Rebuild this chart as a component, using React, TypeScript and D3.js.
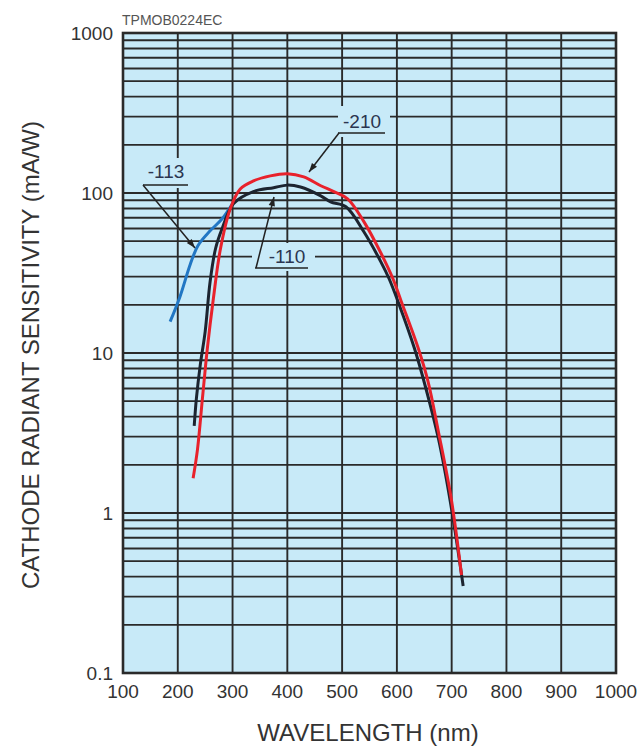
import React from "react";
import * as d3 from "d3";

const xTicks = [100, 200, 300, 400, 500, 600, 700, 800, 900, 1000];
const yTickLabels = [
  { v: 1000, t: "1000" },
  { v: 100, t: "100" },
  { v: 10, t: "10" },
  { v: 1, t: "1" },
  { v: 0.1, t: "0.1" },
];

// -113 (blue, UV extension)
const series113: [number, number][] = [
  [186, 15.7], [204, 22.5], [223, 36], [237, 47], [259, 58], [281, 69], [300, 86],
];
// -110 (black)
const series110: [number, number][] = [
  [230, 3.5], [234, 5.2], [241, 8.4], [250, 13.6], [259, 27.9], [269, 45], [281, 60],
  [302, 86], [338, 102], [375, 108], [400, 112], [424, 109], [461, 96], [479, 88],
  [507, 82], [540, 57], [571, 37], [586, 29], [602, 21], [632, 10.7], [653, 6.0],
  [676, 2.9], [699, 1.1], [721, 0.35],
];
// -210 (red)
const series210: [number, number][] = [
  [228, 1.65], [236, 2.5], [245, 5.2], [254, 10.7], [265, 21.9], [278, 45], [296, 80],
  [314, 106], [338, 119], [369, 128], [400, 132], [430, 126], [461, 111], [485, 102],
  [510, 92], [540, 66], [571, 42], [593, 29], [608, 21], [639, 10.7], [657, 6.6],
  [676, 3.2], [699, 1.24], [718, 0.41],
];

const W = 641, H = 747;
const L = 123, R = 616, T = 33, B = 673;

export default function App() {
  const x = d3.scaleLinear().domain([100, 1000]).range([L, R]);
  const y = d3.scaleLog().domain([0.1, 1000]).range([B, T]);

  const hLines: number[] = [];
  for (let e = -1; e <= 2; e++) {
    for (let m = 1; m <= 9; m++) hLines.push(m * Math.pow(10, e));
  }
  hLines.push(1000);

  const line = d3
    .line<[number, number]>()
    .x((d) => x(d[0]))
    .y((d) => y(d[1]))
    .curve(d3.curveCatmullRom.alpha(0.5));

  const gridColor = "#2a2a2a";
  const textColor = "#333";
  const labelColor = "#2b3550";
  const bg = "#c8eaf8";
  const font = "Liberation Sans, Arial, Helvetica, sans-serif";

  const labels = [
    { t: "-113", tx: 166, ty: 178, box: [140, 158, 52, 30], ul: [143, 188, 185], lead: [143, 185, 195, 248] },
    { t: "-110", tx: 287, ty: 263, box: [252, 243, 63, 28], ul: [255, 308, 268], lead: [256, 268, 274, 197] },
    { t: "-210", tx: 362, ty: 128, box: [338, 106, 52, 31], ul: [338, 385, 133], lead: [339, 133, 309, 172] },
  ];

  const arrowHead = (x1: number, y1: number, x2: number, y2: number) => {
    const ang = Math.atan2(y2 - y1, x2 - x1);
    const len = 9, wid = 3.2;
    const bx = x2 - len * Math.cos(ang), by = y2 - len * Math.sin(ang);
    const px = -Math.sin(ang) * wid, py = Math.cos(ang) * wid;
    return `M${x2},${y2}L${bx + px},${by + py}L${bx - px},${by - py}Z`;
  };

  return (
    <svg
      width={W}
      height={H}
      style={{ position: "absolute", left: 0, top: 0, background: "#fff" }}
      fontFamily={font}
    >
      <rect x={L} y={T} width={R - L} height={B - T} fill={bg} />
      {hLines.map((v, i) => (
        <line key={"h" + i} x1={L} x2={R} y1={y(v)} y2={y(v)} stroke={gridColor} strokeWidth={1.9} />
      ))}
      {xTicks.map((v) => (
        <line key={"v" + v} x1={x(v)} x2={x(v)} y1={T} y2={B} stroke={gridColor} strokeWidth={1.9} />
      ))}
      {labels.map((l) => (
        <rect key={"b" + l.t} x={l.box[0]} y={l.box[1]} width={l.box[2]} height={l.box[3]} fill={bg} />
      ))}
      <rect x={L} y={T} width={R - L} height={B - T} fill="none" stroke="#2a2a2a" strokeWidth={2.6} />

      <path d={line(series113) || ""} fill="none" stroke="#2277c4" strokeWidth={3} />
      <path d={line(series110) || ""} fill="none" stroke="#1c2430" strokeWidth={3} />
      <path d={line(series210) || ""} fill="none" stroke="#e8222c" strokeWidth={3} />

      {labels.map((l) => (
        <g key={"l" + l.t}>
          <text x={l.tx} y={l.ty} textAnchor="middle" fontSize={19} fill={labelColor}>
            {l.t}
          </text>
          <line x1={l.ul[0]} x2={l.ul[1]} y1={l.ul[2]} y2={l.ul[2]} stroke="#222" strokeWidth={1.6} />
          <line x1={l.lead[0]} y1={l.lead[1]} x2={l.lead[2]} y2={l.lead[3]} stroke="#222" strokeWidth={1.5} />
          <path d={arrowHead(l.lead[0], l.lead[1], l.lead[2], l.lead[3])} fill="#222" />
        </g>
      ))}

      {yTickLabels.map((d) => (
        <text key={"yt" + d.t} x={113} y={y(d.v) + 7} textAnchor="end" fontSize={19} fill={textColor}>
          {d.t}
        </text>
      ))}
      {xTicks.map((v) => (
        <text key={"xt" + v} x={x(v)} y={698} textAnchor="middle" fontSize={19} fill={textColor}>
          {v}
        </text>
      ))}
      <text x={L - 1} y={25} fontSize={14} fill="#555">
        TPMOB0224EC
      </text>
      <text x={368} y={741} textAnchor="middle" fontSize={24} fill={textColor}>
        WAVELENGTH (nm)
      </text>
      <text
        transform={`translate(39,355) rotate(-90)`}
        textAnchor="middle"
        fontSize={24}
        fill={textColor}
      >
        CATHODE RADIANT SENSITIVITY (mA/W)
      </text>
    </svg>
  );
}
